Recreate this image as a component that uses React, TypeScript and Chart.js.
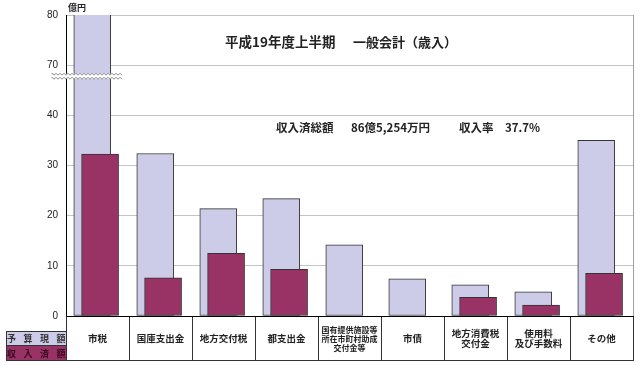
import React, { useEffect, useRef } from "react";
import { Chart, registerables } from "chart.js";

Chart.register(...registerables);

// ---- data (億円) ----
const categories: (string | string[])[] = [
  "市税",
  "国庫支出金",
  "地方交付税",
  "都支出金",
  ["国有提供施設等", "所在市町村助成", "交付金等"],
  "市債",
  ["地方消費税", "交付金"],
  ["使用料", "及び手数料"],
  "その他",
];
const budgetValues = [84.7, 32.4, 21.4, 23.4, 14.2, 7.4, 6.2, 4.8, 35.0];
const receivedValues = [32.3, 7.6, 12.5, 9.3, 0, 0, 3.7, 2.2, 8.5];
const yTickValues = [0, 10, 20, 30, 40, 70, 80];
const seriesNames = ["予算現額", "収入済額"];
const titleParts = ["平成19年度上半期", "一般会計（歳入）"];
const summaryParts = ["収入済総額", "86億5,254万円", "収入率", "37.7%"];
const unitText = "億円";

// axis break: the band 40..70 is compressed to 10 units
const BREAK_LOW = 40;
const BREAK_HIGH = 70;
const SHIFT = BREAK_HIGH - BREAK_LOW - 10;
const toVisual = (v: number) => (v > BREAK_LOW ? v - SHIFT : v);
const fromVisual = (v: number) => (v > BREAK_LOW ? v + SHIFT : v);

const BUDGET_COLOR = "#CCCCE8";
const RECEIVED_COLOR = "#993366";
const JP = "'Noto Sans CJK JP', 'Noto Sans', sans-serif";
const BUDGET_SHIFT = -0.083;
const RECEIVED_SHIFT = 0.041;

const decorPlugin = {
  id: "decor",
  afterDatasetsDraw(chart: any) {
    const { ctx, chartArea } = chart;
    const y = chart.scales.y;
    ctx.save();
    // right border
    ctx.strokeStyle = "#a0a0a0";
    ctx.lineWidth = 1;
    ctx.beginPath();
    ctx.moveTo(chartArea.right + 0.5, chartArea.top);
    ctx.lineTo(chartArea.right + 0.5, chartArea.bottom);
    ctx.stroke();

    // axis break marker
    const by = y.getPixelForValue(BREAK_LOW + 7.8);
    const x0 = chartArea.left - 14;
    const x1 = chartArea.left + 57;
    ctx.fillStyle = "#ffffff";
    ctx.fillRect(x0, by - 2.5, x1 - x0, 5);
    ctx.strokeStyle = "#8a8a8a";
    ctx.lineWidth = 1;
    for (const off of [-2, 2]) {
      ctx.beginPath();
      let up = true;
      ctx.moveTo(x0, by + off);
      for (let x = x0; x <= x1; x += 2) {
        ctx.lineTo(x, by + off + (up ? -1 : 1));
        up = !up;
      }
      ctx.stroke();
    }
    ctx.restore();
  },
  afterDraw(chart: any) {
    const { ctx, chartArea } = chart;
    const xs = chart.scales.x;
    ctx.save();
    // unit
    ctx.fillStyle = "#222";
    ctx.font = `bold 9px ${JP}`;
    ctx.textBaseline = "middle";
    ctx.textAlign = "left";
    ctx.fillText(unitText, chartArea.left + 2, 8);

    // title
    ctx.font = `bold 13.5px ${JP}`;
    ctx.fillText(titleParts[0], 225, 42);
    ctx.font = `bold 13px ${JP}`;
    ctx.fillText(titleParts[1], 353, 42);

    // summary
    ctx.font = `bold 11.5px ${JP}`;
    const sx = [276, 351, 459, 505];
    summaryParts.forEach((s, i) => ctx.fillText(s, sx[i], 128));

    // table bottom line
    const tableBottom = chartArea.bottom + 44;
    ctx.strokeStyle = "#333";
    ctx.lineWidth = 1;
    ctx.beginPath();
    ctx.moveTo(6, tableBottom + 0.5);
    ctx.lineTo(xs.right + 1, tableBottom + 0.5);
    ctx.stroke();

    // legend box
    const lx0 = 6, lx1 = chartArea.left;
    const ly0 = 331.5, lmid = 345.5, ly1 = tableBottom + 0.5;
    ctx.fillStyle = BUDGET_COLOR;
    ctx.fillRect(lx0, ly0, lx1 - lx0, lmid - ly0);
    ctx.fillStyle = RECEIVED_COLOR;
    ctx.fillRect(lx0, lmid, lx1 - lx0, ly1 - lmid);
    ctx.strokeStyle = "#333";
    ctx.strokeRect(lx0 + 0.5, ly0, lx1 - lx0, ly1 - ly0);
    ctx.beginPath();
    ctx.moveTo(lx0, lmid);
    ctx.lineTo(lx1, lmid);
    ctx.stroke();

    ctx.font = `bold 9px ${JP}`;
    ctx.textAlign = "center";
    const cx = [11.5, 28, 44.5, 61];
    seriesNames.forEach((name, r) => {
      ctx.fillStyle = r === 0 ? "#333" : "#3a0a20";
      const cy = r === 0 ? (ly0 + lmid) / 2 + 0.5 : (lmid + ly1) / 2 + 0.5;
      Array.from(name).forEach((ch, i) => ctx.fillText(ch, cx[i], cy));
    });
    ctx.restore();
  },
};

export default function App() {
  const canvasRef = useRef<HTMLCanvasElement | null>(null);

  useEffect(() => {
    const canvas = canvasRef.current;
    if (!canvas) return;
    const chart = new Chart(canvas, {
      type: "bar",
      data: {
        datasets: [
          {
            label: seriesNames[1],
            data: receivedValues.map((v, i) => ({ x: i + 0.5 + RECEIVED_SHIFT, y: toVisual(v) })),
            backgroundColor: RECEIVED_COLOR,
            borderColor: "#333",
            borderWidth: 1,
            borderSkipped: false,
            order: 0,
          },
          {
            label: seriesNames[0],
            data: budgetValues.map((v, i) => ({ x: i + 0.5 + BUDGET_SHIFT, y: toVisual(v) })),
            backgroundColor: BUDGET_COLOR,
            borderColor: "#333",
            borderWidth: 1,
            borderSkipped: false,
            order: 1,
          },
        ],
      },
      options: {
        animation: false,
        responsive: false,
        maintainAspectRatio: false,
        grouped: false,
        barThickness: 37,
        layout: { padding: { top: 15, right: 7, bottom: 5, left: 0 } },
        plugins: {
          legend: { display: false },
          tooltip: { enabled: false },
          title: { display: false },
        },
        scales: {
          x: {
            type: "linear",
            min: 0,
            max: categories.length,
            offset: false,
            afterFit: (s: any) => {
              s.height = 45;
            },
            afterBuildTicks: (s: any) => {
              s.ticks = categories.map((_, i) => ({ value: i + 0.5 }));
            },
            border: { display: true, color: "#000", width: 1 },
            grid: {
              offset: true,
              drawOnChartArea: false,
              drawTicks: true,
              tickLength: 44,
              tickColor: "#333",
              color: "#333",
            },
            ticks: {
              autoSkip: false,
              maxRotation: 0,
              minRotation: 0,
              crossAlign: "center",
              padding: -30,
              color: "#222",
              callback: (_v: any, idx: number) => categories[idx],
              font: (c: any) =>
                c.index === 4
                  ? { family: JP, size: 8, weight: "bold", lineHeight: 1.1 }
                  : { family: JP, size: 9.5, weight: "bold", lineHeight: 1.05 },
            },
          },
          y: {
            min: 0,
            max: toVisual(80),
            afterFit: (s: any) => {
              s.width = 66;
            },
            afterBuildTicks: (s: any) => {
              s.ticks = yTickValues.map((v) => ({ value: toVisual(v) }));
            },
            border: { display: true, color: "#000", width: 1 },
            grid: {
              drawTicks: false,
              color: (c: any) => (c.tick && c.tick.value === 0 ? "#000" : "#c4c4c4"),
            },
            ticks: {
              padding: 8,
              color: "#222",
              font: { family: "'Liberation Sans', Arial, sans-serif", size: 10 },
              callback: (v: any) => String(fromVisual(Number(v))),
            },
          },
        },
      },
      plugins: [decorPlugin],
    } as any);
    return () => chart.destroy();
  }, []);

  return (
    <div style={{ position: "fixed", left: 0, top: 0, width: 640, height: 366, background: "#fff" }}>
      <canvas ref={canvasRef} width={640} height={366} />
    </div>
  );
}
